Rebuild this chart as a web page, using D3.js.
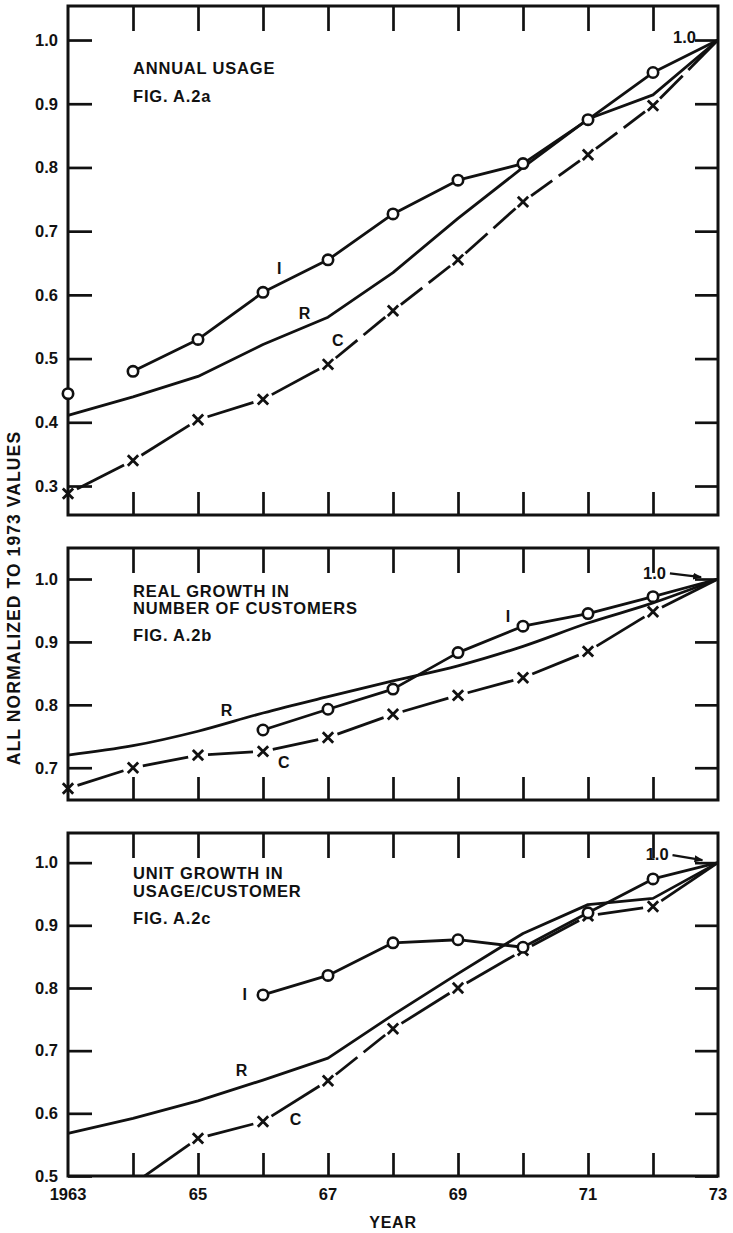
<!DOCTYPE html>
<html>
<head>
<meta charset="utf-8">
<script src="https://cdn.jsdelivr.net/npm/d3@7"></script>
<style>
    body { margin: 0; background: #fff; }
    svg text { font-family: "Liberation Sans", Arial, sans-serif; font-weight: bold; fill: #111; }
    .frame { fill: none; stroke: #111; stroke-width: 3; }
    .axis line { stroke: #111; stroke-width: 2.7; }
    .axis path { display: none; }
    .series { fill: none; stroke: #111; stroke-width: 2.8; stroke-linejoin: round; stroke-linecap: butt; }
</style>
</head>
<body>
<div id="chartDiv"></div>
<script>
//Years on the x axis, and the labelled ones under the last panel
let years = [1963, 1964, 1965, 1966, 1967, 1968, 1969, 1970, 1971, 1972, 1973];
let xLabelYears = [1963, 1965, 1967, 1969, 1971, 1973];
let xLabelText = ['1963', '65', '67', '69', '71', '73'];

//Fig. A.2a - annual usage (I = industrial, R = residential, C = commercial)
let usageI = [0.445, 0.48, 0.53, 0.604, 0.655, 0.727, 0.78, 0.806, 0.875, 0.949, 1.0];
let usageR = [0.411, 0.44, 0.472, 0.522, 0.565, 0.635, 0.72, 0.80, 0.876, 0.914, 1.0];
let usageC = [0.288, 0.34, 0.404, 0.436, 0.491, 0.575, 0.655, 0.746, 0.82, 0.897, 1.0];
let usageTicks = [0.3, 0.4, 0.5, 0.6, 0.7, 0.8, 0.9, 1.0];

//Fig. A.2b - real growth in number of customers
let customersI = [null, null, null, 0.76, 0.793, 0.825, 0.883, 0.925, 0.945, 0.972, 1.0];
let customersR = [0.72, 0.735, 0.758, 0.787, 0.813, 0.838, 0.862, 0.893, 0.93, 0.962, 1.0];
let customersC = [0.667, 0.70, 0.72, 0.726, 0.748, 0.785, 0.815, 0.843, 0.885, 0.948, 1.0];
let customersTicks = [0.7, 0.8, 0.9, 1.0];

//Fig. A.2c - unit growth in usage per customer
let perCustomerI = [null, null, null, 0.789, 0.82, 0.872, 0.877, 0.865, 0.92, 0.974, 1.0];
let perCustomerR = [0.568, 0.592, 0.62, 0.653, 0.688, 0.757, 0.823, 0.887, 0.933, 0.943, 1.0];
let perCustomerC = [null, 0.487, 0.56, 0.587, 0.652, 0.735, 0.80, 0.86, 0.915, 0.93, 1.0];
let perCustomerTicks = [0.5, 0.6, 0.7, 0.8, 0.9, 1.0];


let margin = {left: 68, right: 15};
let width = 733 - margin.left - margin.right;

let panels = [
    {top: 6, bottom: 515, domain: [0.2545, 1.0534], ticks: usageTicks,
     I: usageI, R: usageR, C: usageC, iLineFrom: 1964, smoothR: false,
     title: [['ANNUAL USAGE', 0.946], ['FIG. A.2a', 0.903]],
     letters: [['I', 1966.25, 0.633], ['R', 1966.64, 0.562], ['C', 1967.15, 0.52]],
     oneLabel: [1972.66, 0.995], arrow: null},
    {top: 548, bottom: 800, domain: [0.6487, 1.0493], ticks: customersTicks,
     I: customersI, R: customersR, C: customersC, iLineFrom: 1966, smoothR: true,
     title: [['REAL GROWTH IN', 0.972], ['NUMBER OF CUSTOMERS', 0.944], ['FIG. A.2b', 0.901]],
     letters: [['R', 1965.44, 0.783], ['C', 1966.32, 0.70], ['I', 1969.77, 0.932]],
     oneLabel: [1972.2, 1.0], arrow: [[1972.26, 1.009], [1972.74, 1.003]]},
    {top: 833, bottom: 1176, domain: [0.5, 1.0473], ticks: perCustomerTicks,
     I: perCustomerI, R: perCustomerR, C: perCustomerC, iLineFrom: 1966, smoothR: false,
     title: [['UNIT GROWTH IN', 0.974], ['USAGE/CUSTOMER', 0.945], ['FIG. A.2c', 0.902]],
     letters: [['I', 1965.72, 0.781], ['R', 1965.67, 0.659], ['C', 1966.5, 0.581]],
     oneLabel: [1972.24, 1.004], arrow: [[1972.3, 1.012], [1972.76, 1.004]]}
];

let svg = d3.select('#chartDiv')
    .append('svg')
    .attr('width', 733)
    .attr('height', 1233);

svg.append('defs').append('marker')
    .attr('id', 'arrowHead')
    .attr('viewBox', '0 0 10 10')
    .attr('refX', 9).attr('refY', 5)
    .attr('markerWidth', 4).attr('markerHeight', 4)
    .attr('orient', 'auto')
    .append('path')
    .attr('d', 'M0,1L10,5L0,9Z')
    .attr('fill', '#111');

let xScale = d3.scaleLinear()
    .domain([1963, 1973])
    .range([0, width]);

//Draws the C series as dashes that stop short of each X, with a break in the longer spans
let dashSegments = function(pts) {
    let segs = [];
    for (let i = 1; i < pts.length; i++) {
        let a = pts[i - 1], b = pts[i];
        let dx = b[0] - a[0], dy = b[1] - a[1];
        let len = Math.sqrt(dx * dx + dy * dy);
        let ux = dx / len, uy = dy / len;
        let pad = 10;
        let p0 = [a[0] + ux * pad, a[1] + uy * pad];
        let p1 = [b[0] - ux * pad, b[1] - uy * pad];
        if (i === pts.length - 1) p1 = b;
        if (len > 80) {
            let m = len / 2;
            segs.push([p0, [a[0] + ux * (m - 4), a[1] + uy * (m - 4)]]);
            segs.push([[a[0] + ux * (m + 4), a[1] + uy * (m + 4)], p1]);
        } else {
            segs.push([p0, p1]);
        }
    }
    return segs;
};

panels.forEach(function(p, k) {
    let height = p.bottom - p.top;
    let g = svg.append('g')
        .attr('transform', 'translate(' + margin.left + ',' + p.top + ')');

    let yScale = d3.scaleLinear()
        .domain(p.domain)
        .range([height, 0]);

    g.append('clipPath').attr('id', 'clip' + k)
        .append('rect')
        .attr('x', -12).attr('y', 0)
        .attr('width', width + 24).attr('height', height);

    //ticks all point inwards
    g.append('g').attr('class', 'axis')
        .call(d3.axisLeft(yScale).tickValues(p.ticks).tickSize(-24).tickPadding(10)
            .tickFormat(d3.format('.1f')))
        .selectAll('text')
        .attr('font-size', 16.5);

    g.append('g').attr('class', 'axis')
        .attr('transform', 'translate(' + width + ',0)')
        .call(d3.axisRight(yScale).tickValues(p.ticks).tickSize(-23).tickFormat(''));

    g.append('g').attr('class', 'axis')
        .call(d3.axisTop(xScale).tickValues(years.slice(1, -1)).tickSize(-25).tickFormat(''));

    g.append('g').attr('class', 'axis')
        .attr('transform', 'translate(0,' + height + ')')
        .call(d3.axisBottom(xScale).tickValues(years.slice(1, -1)).tickSize(-23).tickFormat(''));

    if (k === panels.length - 1) {
        g.selectAll('.yearLabel')
            .data(xLabelYears)
            .enter()
            .append('text')
            .attr('class', 'yearLabel')
            .attr('x', function(d) {return xScale(d)})
            .attr('y', height + 24)
            .attr('text-anchor', 'middle')
            .attr('font-size', 16.5)
            .text(function(d, i) {return xLabelText[i]});
    }

    g.append('rect')
        .attr('class', 'frame')
        .attr('width', width)
        .attr('height', height);

    let plot = g.append('g').attr('clip-path', 'url(#clip' + k + ')');

    let toPoints = function(values) {
        return years.map(function(yr, i) {return {year: yr, v: values[i]}})
            .filter(function(d) {return d.v !== null});
    };

    let line = d3.line()
        .x(function(d) {return xScale(d.year)})
        .y(function(d) {return yScale(d.v)});

    //R - plain line
    plot.append('path')
        .attr('class', 'series')
        .attr('d', line.curve(p.smoothR ? d3.curveMonotoneX : d3.curveLinear)(toPoints(p.R)));

    //C - broken line with X markers
    let cPts = toPoints(p.C).map(function(d) {return [xScale(d.year), yScale(d.v)]});
    plot.selectAll('.cseg')
        .data(dashSegments(cPts))
        .enter()
        .append('line')
        .attr('class', 'series cseg')
        .attr('x1', function(d) {return d[0][0]})
        .attr('y1', function(d) {return d[0][1]})
        .attr('x2', function(d) {return d[1][0]})
        .attr('y2', function(d) {return d[1][1]});

    plot.selectAll('.xmark')
        .data(cPts.slice(0, -1))
        .enter()
        .append('path')
        .attr('class', 'series xmark')
        .attr('transform', function(d) {return 'translate(' + d[0] + ',' + d[1] + ')'})
        .attr('d', 'M-5.2,-5.2L5.2,5.2M-5.2,5.2L5.2,-5.2');

    //I - line with open circles
    let iPts = toPoints(p.I);
    plot.append('path')
        .attr('class', 'series')
        .attr('d', line.curve(d3.curveLinear)(iPts.filter(function(d) {return d.year >= p.iLineFrom})));

    plot.selectAll('.omark')
        .data(iPts.slice(0, -1))
        .enter()
        .append('circle')
        .attr('class', 'omark')
        .attr('cx', function(d) {return xScale(d.year)})
        .attr('cy', function(d) {return yScale(d.v)})
        .attr('r', 5.2)
        .attr('fill', '#fff')
        .attr('stroke', '#111')
        .attr('stroke-width', 2.6);

    //panel titles
    g.selectAll('.title')
        .data(p.title)
        .enter()
        .append('text')
        .attr('class', 'title')
        .attr('x', xScale(1964))
        .attr('y', function(d) {return yScale(d[1])})
        .attr('font-size', 16.5)
        .attr('letter-spacing', 0.8)
        .text(function(d) {return d[0]});

    g.selectAll('.letter')
        .data(p.letters)
        .enter()
        .append('text')
        .attr('class', 'letter')
        .attr('x', function(d) {return xScale(d[1])})
        .attr('y', function(d) {return yScale(d[2])})
        .attr('text-anchor', 'middle')
        .attr('font-size', 16)
        .text(function(d) {return d[0]});

    g.append('text')
        .attr('x', xScale(p.oneLabel[0]))
        .attr('y', yScale(p.oneLabel[1]))
        .attr('text-anchor', 'end')
        .attr('font-size', 16.5)
        .text('1.0');

    if (p.arrow) {
        g.append('line')
            .attr('x1', xScale(p.arrow[0][0])).attr('y1', yScale(p.arrow[0][1]))
            .attr('x2', xScale(p.arrow[1][0])).attr('y2', yScale(p.arrow[1][1]))
            .attr('stroke', '#111')
            .attr('stroke-width', 2.2)
            .attr('marker-end', 'url(#arrowHead)');
    }
});

svg.append('text')
    .attr('transform', 'translate(20,598) rotate(-90)')
    .attr('text-anchor', 'middle')
    .attr('font-size', 17.5)
    .attr('letter-spacing', 1.1)
    .text('ALL NORMALIZED TO 1973 VALUES');

svg.append('text')
    .attr('x', margin.left + width / 2)
    .attr('y', 1228)
    .attr('text-anchor', 'middle')
    .attr('font-size', 16)
    .attr('letter-spacing', 0.8)
    .text('YEAR');
</script>
</body>
</html>
